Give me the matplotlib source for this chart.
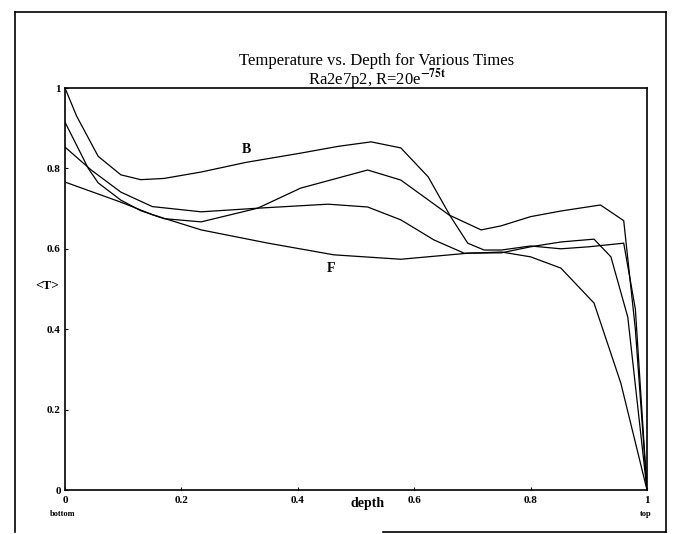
import matplotlib
matplotlib.use("Agg")
import matplotlib.pyplot as plt
from matplotlib.lines import Line2D

W, H = 674, 534

# Curve data (depth, <T>)
b_x = [0.0, 0.02, 0.057, 0.096, 0.13, 0.17, 0.234, 0.311, 0.405, 0.47, 0.526, 0.577, 0.624, 0.663, 0.692, 0.72, 0.75, 0.8, 0.852, 0.9, 0.96, 0.98, 1.0]
b_y = [1.0, 0.93, 0.83, 0.784, 0.772, 0.775, 0.791, 0.815, 0.838, 0.855, 0.866, 0.851, 0.779, 0.679, 0.614, 0.597, 0.597, 0.607, 0.600, 0.605, 0.614, 0.45, 0.0]

c2_x = [0.0, 0.04, 0.057, 0.096, 0.13, 0.17, 0.234, 0.331, 0.405, 0.52, 0.577, 0.66, 0.715, 0.749, 0.8, 0.852, 0.92, 0.96, 0.98, 1.0]
c2_y = [0.915, 0.80, 0.764, 0.721, 0.695, 0.675, 0.667, 0.701, 0.751, 0.796, 0.771, 0.684, 0.647, 0.657, 0.68, 0.694, 0.709, 0.67, 0.4, 0.0]

c3_x = [0.0, 0.045, 0.096, 0.15, 0.234, 0.331, 0.452, 0.52, 0.577, 0.634, 0.686, 0.75, 0.8, 0.852, 0.909, 0.938, 0.967, 1.0]
c3_y = [0.853, 0.796, 0.741, 0.705, 0.692, 0.701, 0.711, 0.704, 0.672, 0.622, 0.589, 0.59, 0.605, 0.617, 0.624, 0.58, 0.43, 0.0]

f_x = [0.0, 0.096, 0.15, 0.234, 0.349, 0.462, 0.577, 0.692, 0.75, 0.8, 0.852, 0.909, 0.955, 1.0]
f_y = [0.766, 0.716, 0.685, 0.647, 0.614, 0.585, 0.574, 0.589, 0.592, 0.58, 0.552, 0.465, 0.266, 0.0]

x_ticks = [0, 0.2, 0.4, 0.6, 0.8, 1]
x_tick_labels = ["0", "0.2", "0.4", "0.6", "0.8", "1"]
y_ticks = [0, 0.2, 0.4, 0.6, 0.8, 1]
y_tick_labels = ["0", "0.2", "0.4", "0.6", "0.8", "1"]

plt.rcParams['font.family'] = ['Liberation Serif', 'DejaVu Serif']
plt.rcParams['mathtext.fontset'] = 'stix'

fig = plt.figure(figsize=(W / 100, H / 100), dpi=100)
L, R, T, B = 65, 647, 88, 490
ax = fig.add_axes([L / W, (H - B) / H, (R - L) / W, (B - T) / H])

for xs, ys in [(b_x, b_y), (c2_x, c2_y), (c3_x, c3_y), (f_x, f_y)]:
    ax.plot(xs, ys, color='black', lw=0.9)

ax.set_xlim(0, 1)
ax.set_ylim(0, 1)
ax.set_xticks(x_ticks)
ax.set_xticklabels(x_tick_labels, fontsize=8, fontweight='bold')
ax.set_yticks(y_ticks)
ax.set_yticklabels(y_tick_labels, fontsize=8, fontweight='bold')
ax.tick_params(direction='in', length=2.5, width=0.8)
ax.tick_params(axis='x', pad=4)
ax.tick_params(axis='y', pad=3)
for s in ax.spines.values():
    s.set_linewidth(1.2)

ax.text(0.311, 0.846, "B", fontsize=10, fontweight='bold', ha='center', va='center')
ax.text(0.457, 0.552, "F", fontsize=10, fontweight='bold', ha='center', va='center')

def px(x, y):
    return x / W, 1 - y / H

fig.text(*px(377, 61), "Temperature vs. Depth for Various Times", fontsize=12, ha='center', va='center')
fig.text(*px(377, 80), r"Ra2e7p2, R=20e$^{\mathbf{-75t}}$", fontsize=12, ha='center', va='center')
fig.text(*px(47, 286), "<T>", fontsize=9.5, fontweight='bold', ha='center', va='center')
fig.text(*px(368, 503), "depth", fontsize=10, fontweight='bold', ha='center', va='center')
fig.text(*px(63, 514), "bottom", fontsize=6, fontweight='bold', ha='center', va='center')
fig.text(*px(646, 514), "top", fontsize=6, fontweight='bold', ha='center', va='center')

# outer frame
def fline(xs, ys, lw=1.2):
    fig.add_artist(Line2D([x / W for x in xs], [1 - y / H for y in ys], color='black', lw=lw))

fline([15, 15], [12, 532])
fline([15, 666], [12, 12])
fline([666, 666], [12, 532])
fline([383, 666], [532, 532])

fig.savefig("out.png", dpi=100)
